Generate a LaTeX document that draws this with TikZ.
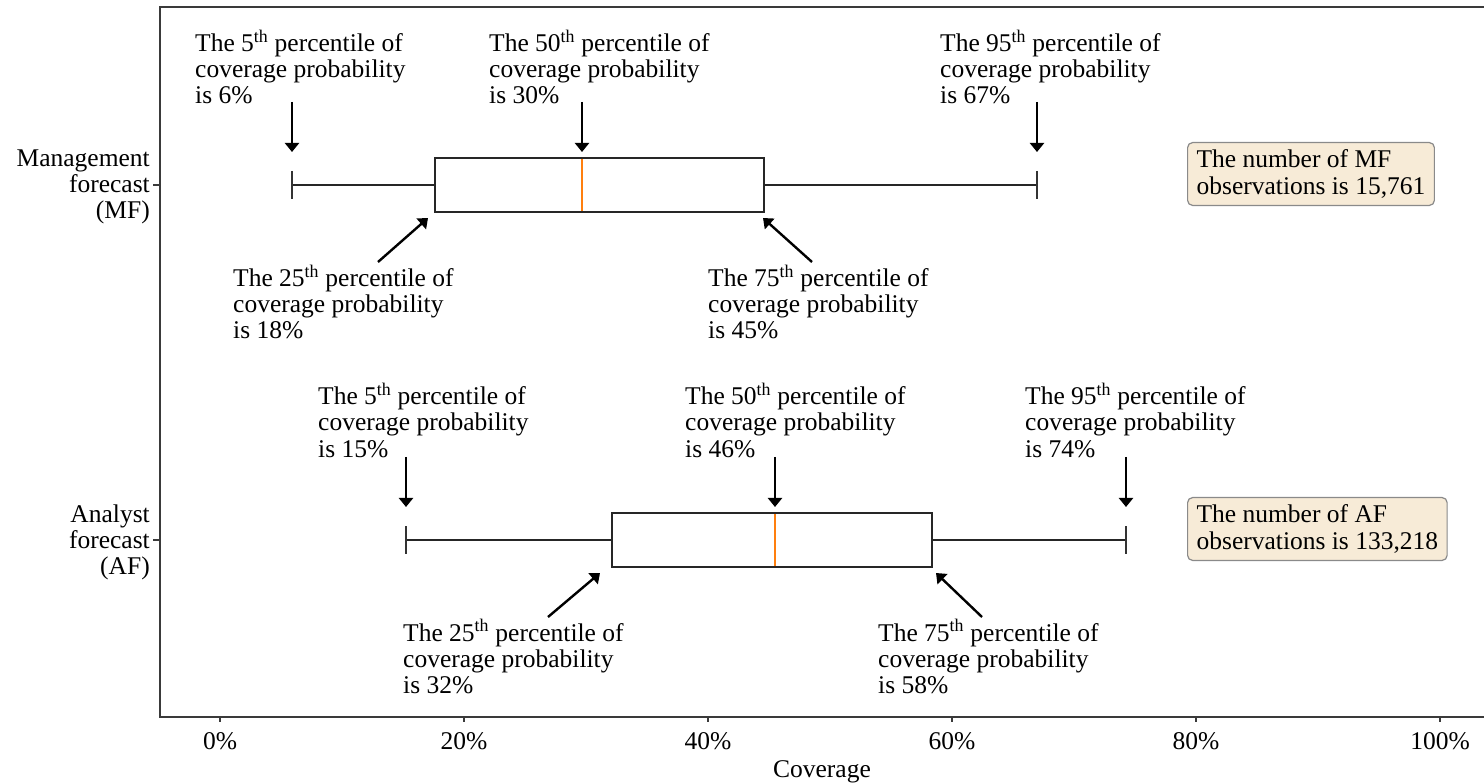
\documentclass[tikz,border=0pt]{standalone}
\usepackage{fontspec}
\setmainfont{Liberation Serif}
\usetikzlibrary{arrows.meta}
\definecolor{axisgray}{HTML}{3A3A3A}
\definecolor{medorange}{HTML}{FF7F0E}
\definecolor{notefill}{HTML}{F7EBD7}
\definecolor{noteborder}{HTML}{8A8A8A}
\begin{document}
\begin{tikzpicture}[x=1pt,y=-1pt,
  lbl/.style={font=\fontsize{25.5}{26}\selectfont, align=left, inner sep=0pt, anchor=base west},
  ylbl/.style={font=\fontsize{25.5}{26}\selectfont, align=right, inner sep=0pt, anchor=east},
  ticklbl/.style={font=\fontsize{25.5}{26}\selectfont, inner sep=0pt, anchor=base},
  note/.style={font=\fontsize{25.5}{27}\selectfont, align=left, draw=noteborder, fill=notefill,
    rounded corners=5pt, line width=1.2pt, inner xsep=9pt, inner ysep=7pt, anchor=west},
  axisline/.style={axisgray, line width=1.5pt},
  boxline/.style={black!85, line width=2pt},
  capline/.style={black!80, line width=1.6pt},
  medline/.style={medorange, line width=1.5pt},
  ptr/.style={black, line width=2.4pt, -{Triangle[length=9pt,width=14pt]}}
]
\useasboundingbox (0,0) rectangle (1484,783);

% frame / axes
\coordinate (TL) at (160,7);
\coordinate (TR) at (1484,7);
\coordinate (BL) at (160,717);
\coordinate (BR) at (1484,717);
\draw[axisline] (TR) -- (TL) -- (BL) -- (BR);

% x ticks
\foreach \p/\name in {0/0,20/20,40/40,60/60,80/80,100/100}{
  \coordinate (xt\name) at ({220+12.2*\p},717);
  \draw[axisline] (xt\name) -- ++(0,5);
  \node[ticklbl] (xl\name) at ({220+12.2*\p},749) {\p\%};
}
\node[font=\fontsize{25.5}{26}\selectfont, inner sep=0pt, anchor=base] (xtitle) at (822,777) {Coverage};

% y ticks and labels
\draw[axisline] (153,185) -- (160,185);
\draw[axisline] (153,540) -- (160,540);
\node[ylbl] (ymf) at (150,187) {Management\\forecast\\(MF)};
\node[ylbl] (yaf) at (150,542) {Analyst\\forecast\\(AF)};

% ---------- MF boxplot ----------
\draw[boxline] (292,185) -- (435,185);
\draw[boxline] (764,185) -- (1037,185);
\draw[capline] (292,171) -- (292,199);
\draw[capline] (1037,171) -- (1037,199);
\draw[boxline, fill=white] (435,158) rectangle (764,212);
\draw[medline] (582,159) -- (582,211);

% MF pointers
\coordinate (m5a) at (292,102);  \coordinate (m5b) at (292,152);
\coordinate (m50a) at (582,102); \coordinate (m50b) at (582,152);
\coordinate (m95a) at (1037,102);\coordinate (m95b) at (1037,152);
\coordinate (m25a) at (378,262); \coordinate (m25b) at (428,218);
\coordinate (m75a) at (812,262); \coordinate (m75b) at (763,218);
\draw[ptr] (m5a) -- (m5b);
\draw[ptr] (m50a) -- (m50b);
\draw[ptr] (m95a) -- (m95b);
\draw[ptr] (m25a) -- (m25b);
\draw[ptr] (m75a) -- (m75b);

\node[lbl] (tm5) at (195,104) {The 5\textsuperscript{th} percentile of\\coverage probability\\is 6\%};
\node[lbl] (tm50) at (489,104) {The 50\textsuperscript{th} percentile of\\coverage probability\\is 30\%};
\node[lbl] (tm95) at (940,104) {The 95\textsuperscript{th} percentile of\\coverage probability\\is 67\%};
\node[lbl] (tm25) at (233,339) {The 25\textsuperscript{th} percentile of\\coverage probability\\is 18\%};
\node[lbl] (tm75) at (708,339) {The 75\textsuperscript{th} percentile of\\coverage probability\\is 45\%};

\node[note] (nmf) at (1187,174) {The number of MF\\observations is 15,761};

% ---------- AF boxplot ----------
\draw[boxline] (406,540) -- (612,540);
\draw[boxline] (932,540) -- (1126,540);
\draw[capline] (406,526) -- (406,554);
\draw[capline] (1126,526) -- (1126,554);
\draw[boxline, fill=white] (612,513) rectangle (932,567);
\draw[medline] (775,514) -- (775,566);

\coordinate (a5a) at (406,457);  \coordinate (a5b) at (406,507);
\coordinate (a50a) at (775,457); \coordinate (a50b) at (775,507);
\coordinate (a95a) at (1126,457);\coordinate (a95b) at (1126,507);
\coordinate (a25a) at (548,617); \coordinate (a25b) at (600,573);
\coordinate (a75a) at (982,617); \coordinate (a75b) at (936,573);
\draw[ptr] (a5a) -- (a5b);
\draw[ptr] (a50a) -- (a50b);
\draw[ptr] (a95a) -- (a95b);
\draw[ptr] (a25a) -- (a25b);
\draw[ptr] (a75a) -- (a75b);

\node[lbl] (ta5) at (318,457) {The 5\textsuperscript{th} percentile of\\coverage probability\\is 15\%};
\node[lbl] (ta50) at (685,457) {The 50\textsuperscript{th} percentile of\\coverage probability\\is 46\%};
\node[lbl] (ta95) at (1025,457) {The 95\textsuperscript{th} percentile of\\coverage probability\\is 74\%};
\node[lbl] (ta25) at (403,693) {The 25\textsuperscript{th} percentile of\\coverage probability\\is 32\%};
\node[lbl] (ta75) at (878,693) {The 75\textsuperscript{th} percentile of\\coverage probability\\is 58\%};

\node[note] (naf) at (1187,529) {The number of AF\\observations is 133,218};
\end{tikzpicture}
\end{document}
